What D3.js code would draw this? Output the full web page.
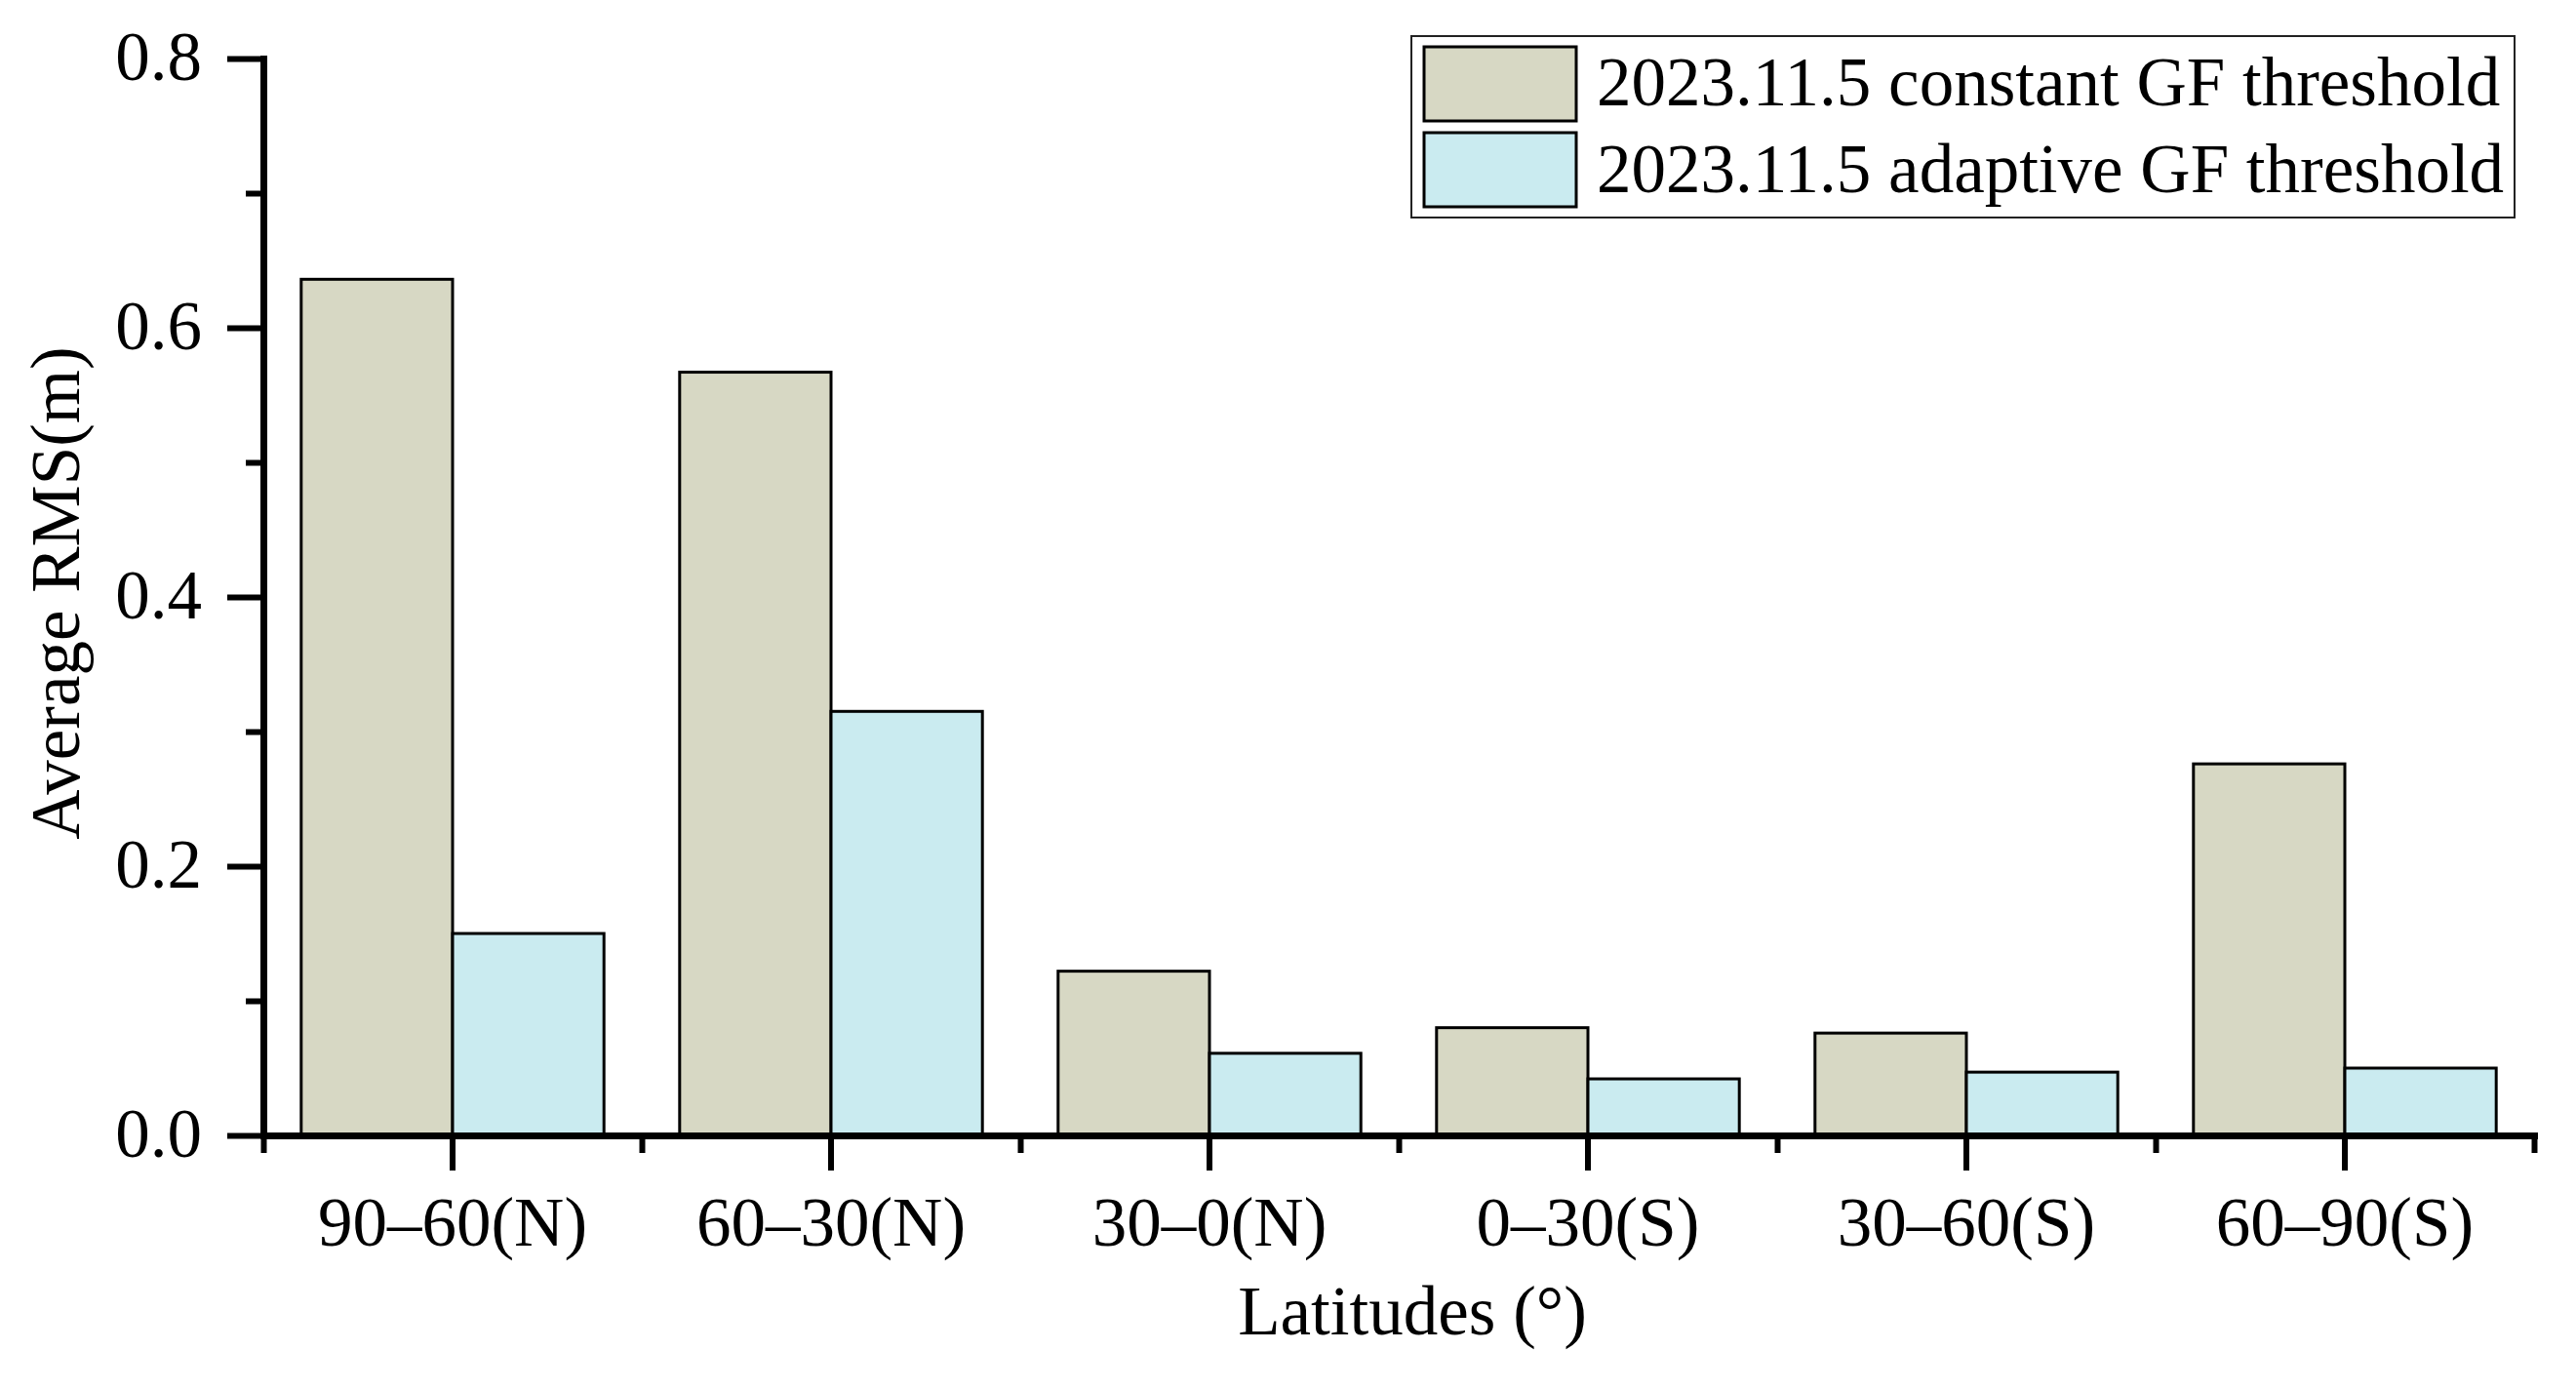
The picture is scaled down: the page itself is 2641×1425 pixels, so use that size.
<!DOCTYPE html>
<meta charset="utf-8">
<script src="https://d3js.org/d3.v7.min.js"></script>
<style>
  body { margin: 0; background: #fff; }
  text { font-family: "Liberation Serif", "Times New Roman", serif; }
</style>
<div id="my_dataviz"></div>
<script>

// data
var categories = ["90–60(N)", "60–30(N)", "30–0(N)", "0–30(S)", "30–60(S)", "60–90(S)"];
var seriesNames = ["2023.11.5 constant GF threshold", "2023.11.5 adaptive GF threshold"];
var constantRMS = [0.636, 0.567, 0.122, 0.080, 0.076, 0.276];
var adaptiveRMS = [0.150, 0.315, 0.061, 0.042, 0.047, 0.050];
var yMajorTicks = [0.0, 0.2, 0.4, 0.6, 0.8];
var yMinorTicks = [0.1, 0.3, 0.5, 0.7];
var colors = ["#d7d8c4", "#caebf0"];

var fs = 71;

// set the dimensions and margins of the graph
var W = 2641, H = 1425;
var margin = {top: 60, right: 43, bottom: 261, left: 270},
    width = W - margin.left - margin.right,
    height = H - margin.top - margin.bottom;

var svg = d3.select("#my_dataviz")
  .append("svg")
    .attr("width", W)
    .attr("height", H)
  .append("g")
    .attr("transform", "translate(" + margin.left + "," + margin.top + ")");

// build rows for the grouped bars
var rows = categories.map(function(c, i) {
  return {cat: c, values: [constantRMS[i], adaptiveRMS[i]]};
});

// X scales
var x = d3.scaleBand()
  .domain(categories)
  .range([0, width])
  .padding(0);

var xSub = d3.scaleBand()
  .domain([0, 1])
  .range([x.bandwidth() * 0.1, x.bandwidth() * 0.9])
  .padding(0);

var xEdge = d3.scaleLinear()
  .domain([0, categories.length])
  .range([0, width]);

// Y scale
var y = d3.scaleLinear()
  .domain([0, 0.8])
  .range([height, 0]);

// Bars
var groups = svg.selectAll("g.grp")
  .data(rows)
  .enter()
  .append("g")
    .attr("class", "grp")
    .attr("transform", function(d) { return "translate(" + x(d.cat) + ",0)"; });

groups.selectAll("rect")
  .data(function(d) { return d.values.map(function(v, k) { return {k: k, v: v}; }); })
  .enter()
  .append("rect")
    .attr("x", function(d) { return xSub(d.k); })
    .attr("y", function(d) { return y(d.v); })
    .attr("width", xSub.bandwidth())
    .attr("height", function(d) { return height - y(d.v); })
    .attr("fill", function(d) { return colors[d.k]; })
    .attr("stroke", "#000")
    .attr("stroke-width", 3);

// X axis: minor ticks at category edges, major ticks + labels at centers
var xMinor = svg.append("g")
  .attr("transform", "translate(0," + height + ")")
  .call(d3.axisBottom(xEdge).tickValues(d3.range(categories.length + 1)).tickSize(18).tickSizeOuter(0).tickFormat(""));

var xMajor = svg.append("g")
  .attr("transform", "translate(0," + height + ")")
  .call(d3.axisBottom(x).tickSize(36).tickSizeOuter(0).tickPadding(27));

xMajor.selectAll("text")
  .attr("font-size", fs)
  .attr("fill", "#000");

// Y axis
var yMinor = svg.append("g")
  .call(d3.axisLeft(y).tickValues(yMinorTicks).tickSize(18).tickSizeOuter(0).tickFormat(""));

var yMajor = svg.append("g")
  .call(d3.axisLeft(y).tickValues(yMajorTicks).tickSize(37).tickSizeOuter(0).tickPadding(26).tickFormat(d3.format(".1f")));

yMajor.selectAll("text")
  .attr("font-size", fs)
  .attr("fill", "#000")
  .attr("dy", "0.3em");

svg.selectAll(".tick line").attr("stroke", "#000").attr("stroke-width", 6);
svg.selectAll(".domain").attr("stroke", "#000").attr("stroke-width", 7).attr("stroke-linecap", "square");
xMinor.select(".domain").remove();
yMinor.select(".domain").remove();

// axis titles
svg.append("text")
  .attr("x", 1448 - margin.left)
  .attr("y", 1368 - margin.top)
  .attr("text-anchor", "middle")
  .attr("font-size", fs)
  .text("Latitudes (°)");

svg.append("text")
  .attr("transform", "translate(" + (81 - margin.left) + "," + (608 - margin.top) + ") rotate(-90)")
  .attr("text-anchor", "middle")
  .attr("font-size", fs)
  .text("Average RMS(m)");

// legend
var legend = d3.select("svg").append("g");

legend.append("rect")
  .attr("x", 1447).attr("y", 37)
  .attr("width", 1131).attr("height", 186)
  .attr("fill", "#fff")
  .attr("stroke", "#222")
  .attr("stroke-width", 2);

seriesNames.forEach(function(name, i) {
  legend.append("rect")
    .attr("x", 1460).attr("y", 48 + i * 88)
    .attr("width", 156).attr("height", 76)
    .attr("fill", colors[i])
    .attr("stroke", "#000")
    .attr("stroke-width", 3);
  legend.append("text")
    .attr("x", 1637).attr("y", 108 + i * 89)
    .attr("font-size", fs)
    .text(name);
});

</script>
